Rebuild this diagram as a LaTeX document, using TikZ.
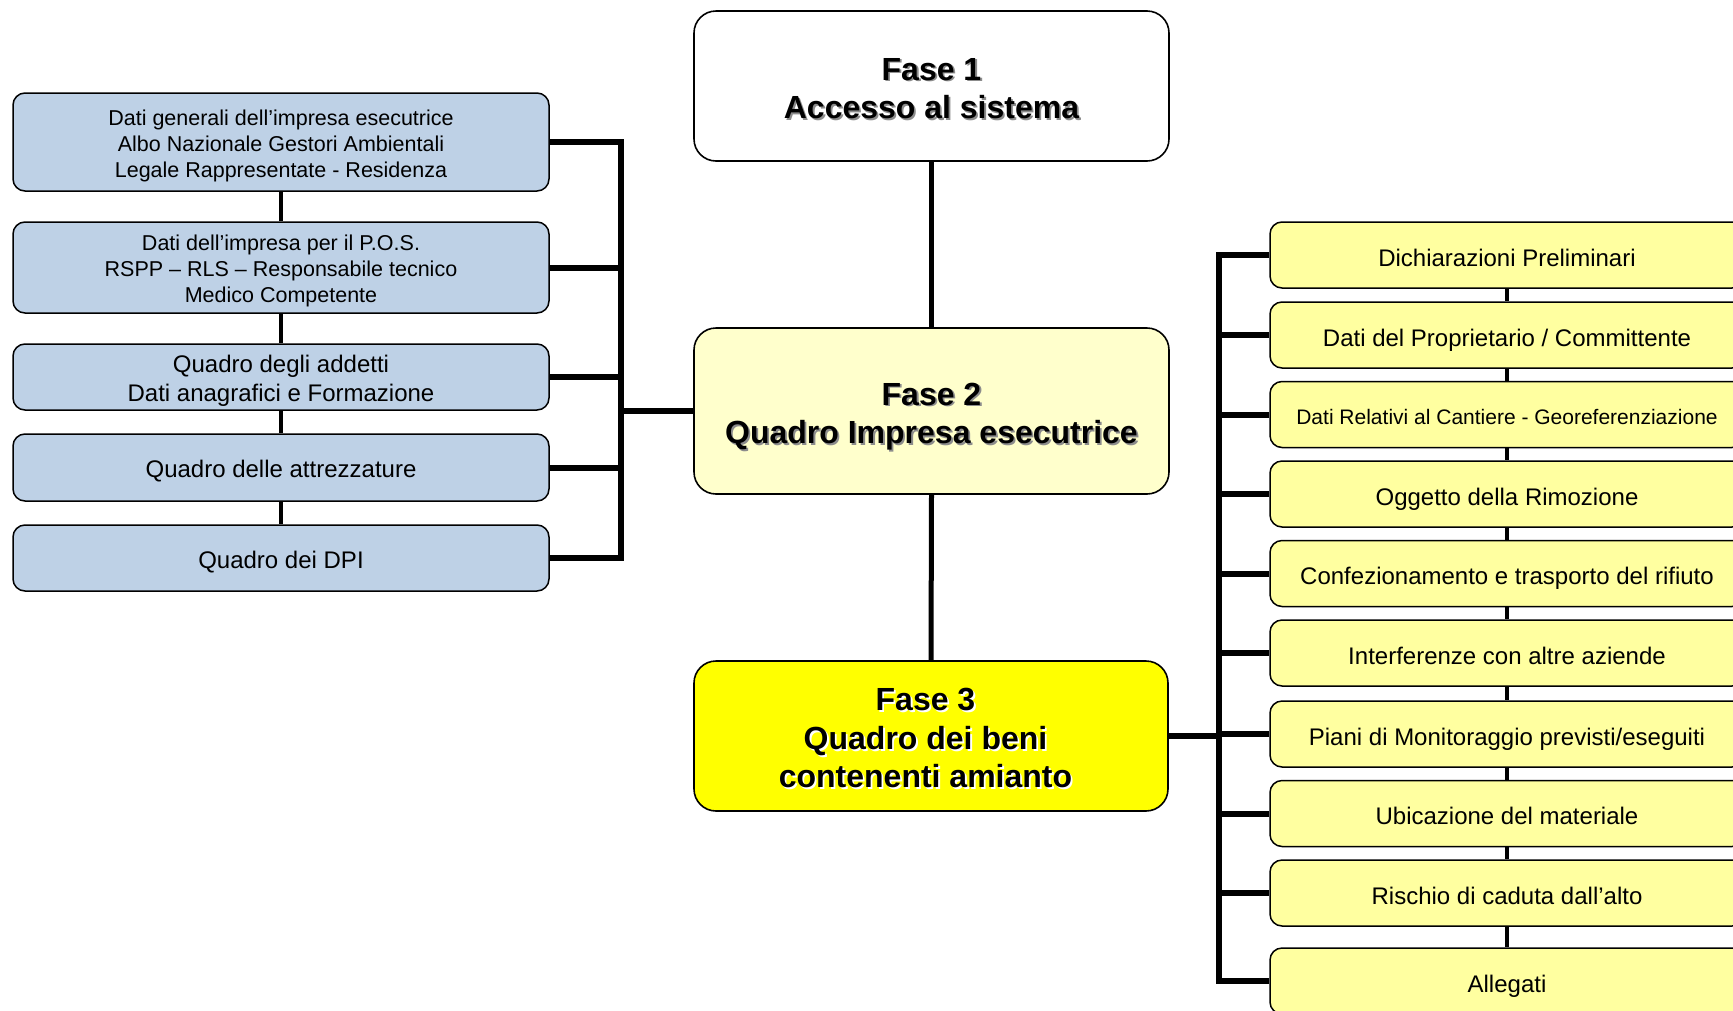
\documentclass[tikz,border=0pt]{standalone}
\usepackage{fontspec}
\setmainfont{Liberation Sans}
\usetikzlibrary{calc}
\definecolor{leftblue}{RGB}{190,209,230}
\definecolor{lightyel}{RGB}{255,255,204}
\definecolor{rightyel}{RGB}{255,255,160}
\definecolor{brightyel}{RGB}{255,255,0}
\definecolor{shadowgray}{RGB}{140,140,140}
\newcommand{\shadowtext}[2]{\leavevmode\rlap{\kern1.8pt\raisebox{-1.8pt}{\textcolor{#1}{\begin{tabular}{@{}c@{}}#2\end{tabular}}}}\begin{tabular}{@{}c@{}}#2\end{tabular}}
\newcommand{\lowered}[2]{\raisebox{-#1}[\height][\depth]{\begin{tabular}{@{}c@{}}#2\end{tabular}}}
\newcommand{\phasetext}[3]{\raisebox{-#1}[\height][\depth]{\shadowtext{#2}{#3}}}
\tikzset{
  phase/.style={draw=black, line width=1.6pt, rounded corners=22pt, minimum width=475pt, inner sep=0pt, align=center, font=\fontsize{32}{38.5}\selectfont\bfseries},
  leftbox/.style={draw=black, line width=1.5pt, rounded corners=12pt, fill=leftblue, minimum width=536pt, inner sep=0pt, align=center},
  smalltxt/.style={font=\fontsize{21.5}{26}\selectfont},
  largetxt/.style={font=\fontsize{24}{28.8}\selectfont},
  rightbox/.style={draw=black, line width=1.5pt, rounded corners=12pt, fill=rightyel, minimum width=474pt, minimum height=66pt, inner sep=0pt, align=center, font=\fontsize{24}{29}\selectfont},
  bus/.style={line width=6pt},
  link/.style={line width=4pt},
  phaselink/.style={line width=5pt}
}
\begin{document}
\begin{tikzpicture}[x=1pt,y=-1pt]
\useasboundingbox (0,0) rectangle (1733,1010);
\clip (0,0) rectangle (1733,1010);
\fill[white] (0,0) rectangle (1733,1010);

% phase boxes
\node[phase, fill=white, minimum height=150pt] (F1) at (931.5,86) {\phasetext{6.5pt}{shadowgray}{Fase 1\\Accesso al sistema}};
\node[phase, fill=lightyel, minimum height=166pt] (F2) at (931.5,411) {\phasetext{6.5pt}{shadowgray}{Fase 2\\Quadro Impresa esecutrice}};
\node[phase, fill=brightyel, minimum height=150pt, minimum width=474pt] (F3) at (931,736) {\kern-11pt\phasetext{6.5pt}{white}{Fase 3\\Quadro dei beni\\contenenti amianto}};

% left boxes
\node[leftbox, smalltxt, minimum height=98pt] (L1) at (281,142) {\lowered{4.2pt}{Dati generali dell’impresa esecutrice\\Albo Nazionale Gestori Ambientali\\Legale Rappresentate - Residenza}};
\node[leftbox, smalltxt, minimum height=91pt] (L2) at (281,267.5) {\lowered{3.8pt}{Dati dell’impresa per il P.O.S.\\RSPP – RLS – Responsabile tecnico\\Medico Competente}};
\node[leftbox, largetxt, minimum height=66pt] (L3) at (281,377) {\lowered{4.4pt}{Quadro degli addetti\\Dati anagrafici e Formazione}};
\node[leftbox, largetxt, minimum height=67pt] (L4) at (281,467.5) {\lowered{4.4pt}{Quadro delle attrezzature}};
\node[leftbox, largetxt, minimum height=66pt] (L5) at (281,558) {\lowered{4.4pt}{Quadro dei DPI}};

% right boxes
\node[rightbox] (R1) at (1507,255) {\lowered{5.5pt}{Dichiarazioni Preliminari}};
\node[rightbox] (R2) at (1507,335) {\lowered{5.5pt}{Dati del Proprietario / Committente}};
\node[rightbox, font=\fontsize{21}{26}\selectfont] (R3) at (1507,414.5) {\lowered{5pt}{Dati Relativi al Cantiere - Georeferenziazione}};
\node[rightbox] (R4) at (1507,494) {\lowered{5.5pt}{Oggetto della Rimozione}};
\node[rightbox] (R5) at (1507,573.5) {\lowered{5.5pt}{Confezionamento e trasporto del rifiuto}};
\node[rightbox] (R6) at (1507,653) {\lowered{5.5pt}{Interferenze con altre aziende}};
\node[rightbox] (R7) at (1507,734) {\lowered{5.5pt}{Piani di Monitoraggio previsti/eseguiti}};
\node[rightbox] (R8) at (1507,813.5) {\lowered{5.5pt}{Ubicazione del materiale}};
\node[rightbox] (R9) at (1507,893) {\lowered{5.5pt}{Rischio di caduta dall’alto}};
\node[rightbox] (R10) at (1507,981) {\lowered{5.5pt}{Allegati}};

% bus coordinates
\coordinate (lbus) at (621,0);
\coordinate (rbus) at (1219,0);

% phase links
\draw[phaselink] (F1.south) -- (F2.north);
\draw[phaselink] (F2.south) -- (F3.north);

% left links
\foreach \a/\b in {L1/L2,L2/L3,L3/L4,L4/L5} \draw[link] (\a.south) -- (\b.north);
\foreach \n in {L1,L2,L3,L4,L5} \draw[bus] (\n.east) -- (\n.east -| lbus);
\draw[bus, line cap=rect] (L1.east -| lbus) -- (L5.east -| lbus);
\draw[bus] (F2.west) -- (F2.west -| lbus);

% right links
\foreach \a/\b in {R1/R2,R2/R3,R3/R4,R4/R5,R5/R6,R6/R7,R7/R8,R8/R9,R9/R10} \draw[link] (\a.south) -- (\b.north);
\foreach \n in {R1,R2,R3,R4,R5,R6,R7,R8,R9,R10} \draw[bus] (\n.west) -- (\n.west -| rbus);
\draw[bus, line cap=rect] (R1.west -| rbus) -- (R10.west -| rbus);
\draw[bus] (F3.east) -- (F3.east -| rbus);
\end{tikzpicture}
\end{document}
